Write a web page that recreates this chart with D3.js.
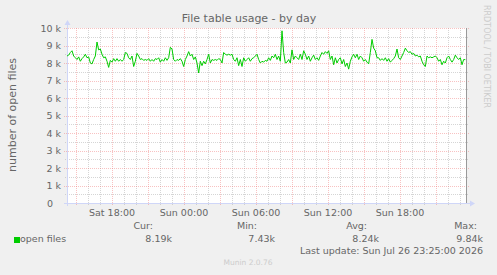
<!DOCTYPE html>
<html><head><meta charset="utf-8">
<script src="https://cdn.jsdelivr.net/npm/d3@7/dist/d3.min.js"></script>
<style>
html,body{margin:0;padding:0;background:#f0f0f0;overflow:hidden}
svg{display:block}
text{font-family:"DejaVu Sans",sans-serif}
</style>
</head><body>
<svg id="chart" width="497" height="275"></svg>
<script>
// ---- data ----
const title = "File table usage - by day";
const yAxisTitle = "number of open files";
const seriesName = "open files";
const startTime = new Date(2026, 6, 25, 14, 15, 0);
const endTime = new Date(2026, 6, 26, 23, 35, 0);
const stepSeconds = 500;
const openFiles = [
 8400,8450,8600,8700,8400,8300,8200,8350,8100,8250,8350,8500,8300,8350,8000,7950,8200,8400,9200,8750,
 8800,8500,8300,8350,8100,7750,8150,8050,8250,8100,8250,8100,8200,8100,8200,8600,8550,8300,8200,8400,
 7800,8100,8550,8400,8200,8250,8150,8200,8150,8250,8100,8200,8100,8250,8200,8300,8050,8200,8100,8300,
 8150,
 8300,8900,8800,8200,8100,8200,8150,8250,8100,7800,8200,8400,8650,8400,8500,8200,8350,8000,7430,8100,
 7850,8100,7950,8200,8500,8000,8200,8150,8200,8150,8250,8200,8000,8600,8500,8450,8500,8450,8500,8200,
 8100,8300,7850,8200,7800,8300,8100,8200,8300,8100,8250,8300,8400,8500,8200,8000,8100,8050,8150,8100,
 8300,8150,8400,8300,8500,8200,8400,8100,9840,8600,8000,8050,8200,8000,8750,8200,8400,8300,8200,8500,
 8200,8700,8500,8200,8400,8100,8300,8450,8200,8300,8150,8400,8600,8500,8650,8550,8700,8200,8400,7900,
 8300,8000,8200,8300,7950,8200,7800,8000,7650,8100,8350,8500,8300,8500,8200,8400,8300,8100,8200,8050,
 7950,8600,9350,8850,8700,8300,8300,8150,8250,8150,8300,8100,8250,8050,8150,8250,8400,8800,8300,8200,
 8400,8600,8850,8700,8600,8650,8500,8550,8400,8450,8350,8400,8100,7900,7800,8400,8300,8350,8300,8350,
 8400,8300,8100,8200,7900,8100,8000,8300,8400,8200,8050,8200,8450,8300,8200,8300,7900,8200,8190
];
const yTicks = [0,1000,2000,3000,4000,5000,6000,7000,8000,9000,10000];
const yTickLabels = ["0","1 k","2 k","3 k","4 k","5 k","6 k","7 k","8 k","9 k","10 k"];
const xLabelTimes = [new Date(2026,6,25,18,0), new Date(2026,6,26,0,0), new Date(2026,6,26,6,0), new Date(2026,6,26,12,0), new Date(2026,6,26,18,0)];
const xLabels = ["Sat 18:00","Sun 00:00","Sun 06:00","Sun 12:00","Sun 18:00"];
const statNames = ["Cur:","Min:","Avg:","Max:"];
const statValues = ["8.19k","7.43k","8.24k","9.84k"];
const lastUpdate = "Last update: Sun Jul 26 23:25:00 2026";
const footer = "Munin 2.0.76";
const sideText = "RRDTOOL / TOBI OETIKER";

// ---- drawing ----
const svg = d3.select("#chart");
const L = 67, R = 467, T = 28, B = 203;
const fontColor = "#666666", axisColor = "#CFD6F8";
const gridColor = "rgba(185,185,185,0.6)", mgridColor = "rgba(240,120,120,0.45)";

const data = openFiles.map((v, i) => ({t: new Date(startTime.getTime() + i * stepSeconds * 1000), v}));
const x = d3.scaleTime().domain([startTime, endTime]).range([L, R]);
const y = d3.scaleLinear().domain([0, 10000]).range([B, T]);
const px = v => Math.round(v) + 0.5;

svg.append("rect").attr("width", 497).attr("height", 275).attr("fill", "#f0f0f0");
svg.append("rect").attr("x", L).attr("y", T).attr("width", R - L).attr("height", B - T).attr("fill", "#ffffff");

const g = svg.append("g").attr("shape-rendering", "crispEdges");
// vertical grid
const hours = d3.timeHour.every(1).range(startTime, endTime);
hours.forEach(h => {
  const major = h.getHours() % 3 === 0;
  const xx = px(x(h));
  g.append("line").attr("x1", xx).attr("x2", xx).attr("y1", T).attr("y2", B + (major ? 3 : 2))
    .attr("stroke", major ? mgridColor : gridColor).attr("stroke-dasharray", "1,1");
});
// horizontal grid
d3.range(500, 10001, 500).forEach(v => {
  const major = v % 1000 === 0;
  const yy = px(y(v));
  g.append("line").attr("x1", major ? L - 3 : L - 2).attr("x2", R + (major ? 3 : 2)).attr("y1", yy).attr("y2", yy)
    .attr("stroke", major ? mgridColor : gridColor).attr("stroke-dasharray", "1,1");
});
// right border
g.append("line").attr("x1", R - 0.5).attr("x2", R - 0.5).attr("y1", T).attr("y2", B)
  .attr("stroke", "#999999");
// axes
g.append("line").attr("x1", L - 3).attr("x2", R + 3).attr("y1", B + 0.5).attr("y2", B + 0.5).attr("stroke", axisColor);
g.append("line").attr("x1", L + 0.5).attr("x2", L + 0.5).attr("y1", B + 3).attr("y2", T - 3).attr("stroke", axisColor);
svg.append("path").attr("d", `M${R + 3},${B - 2.5} L${R + 8},${B + 0.5} L${R + 3},${B + 3.5} Z`).attr("fill", axisColor);
svg.append("path").attr("d", `M${L - 2.5},${T - 3} L${L + 0.5},${T - 8} L${L + 3.5},${T - 3} Z`).attr("fill", axisColor);

// series line
svg.append("path").datum(data)
  .attr("d", d3.line().x(d => x(d.t)).y(d => y(d.v)))
  .attr("fill", "none").attr("stroke", "#00cc00").attr("stroke-width", 1);

// y labels
svg.append("g").selectAll("text").data(yTicks).join("text")
  .attr("x", (d, i) => i === 0 ? 53 : 61).attr("y", d => y(d) + 3.5)
  .attr("text-anchor", "end").attr("font-size", 9.5).attr("fill", fontColor)
  .text((d, i) => yTickLabels[i]);
// x labels
svg.append("g").selectAll("text").data(xLabelTimes).join("text")
  .attr("x", d => x(d)).attr("y", 216).attr("text-anchor", "middle")
  .attr("font-size", 9.5).attr("fill", fontColor).text((d, i) => xLabels[i]);

// title
svg.append("text").attr("x", 249).attr("y", 22).attr("text-anchor", "middle")
  .attr("font-size", 11).attr("fill", fontColor).text(title);
// y axis title
svg.append("text").attr("transform", `translate(16,115) rotate(-90)`).attr("text-anchor", "middle")
  .attr("font-size", 11).attr("fill", fontColor).text(yAxisTitle);
// side text
svg.append("text").attr("transform", `translate(484,5) rotate(90)`).attr("text-anchor", "start")
  .attr("font-size", 8).attr("fill", "#cccccc").text(sideText);

// legend
svg.append("rect").attr("x", 14).attr("y", 237).attr("width", 6).attr("height", 6).attr("fill", "#00cc00");
svg.append("text").attr("x", 20).attr("y", 242).attr("font-size", 9.5).attr("fill", fontColor).text(seriesName);
const nameRight = [153, 257, 367, 477];
const valRight = [172, 275, 379, 483];
statNames.forEach((n, i) => {
  svg.append("text").attr("x", nameRight[i]).attr("y", 229).attr("text-anchor", "end")
    .attr("font-size", 9.5).attr("fill", fontColor).text(n);
  svg.append("text").attr("x", valRight[i]).attr("y", 242).attr("text-anchor", "end")
    .attr("font-size", 9.5).attr("fill", fontColor).text(statValues[i]);
});
svg.append("text").attr("x", 483).attr("y", 254).attr("text-anchor", "end")
  .attr("font-size", 9.5).attr("fill", fontColor).text(lastUpdate);
svg.append("text").attr("x", 248).attr("y", 265).attr("text-anchor", "middle")
  .attr("font-size", 7.5).attr("fill", "#cccccc").text(footer);
</script>
</body></html>
